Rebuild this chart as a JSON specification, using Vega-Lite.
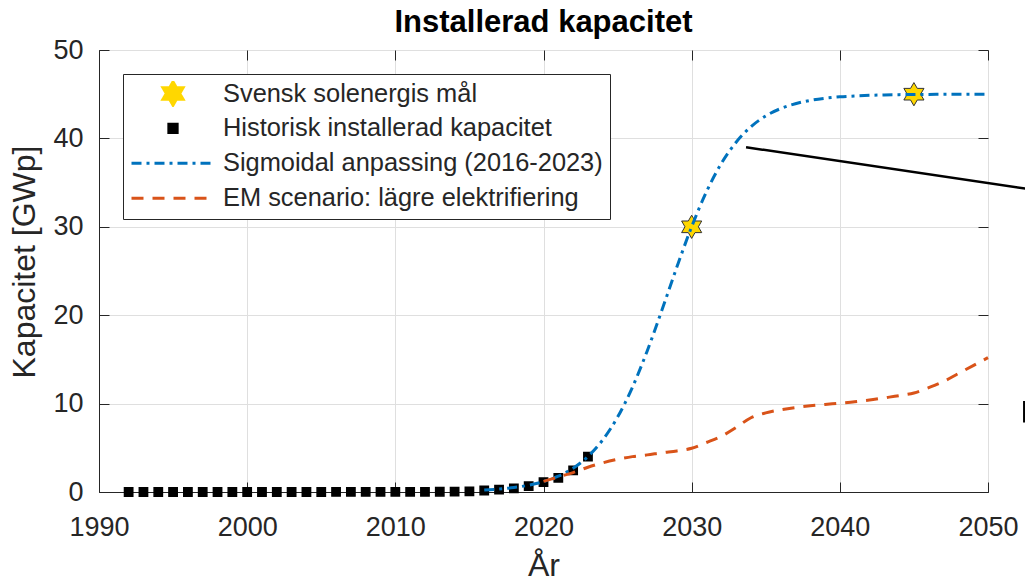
{
  "$schema": "https://vega.github.io/schema/vega-lite/v6.json",
  "width": 889,
  "height": 442,
  "autosize": {"type": "none"},
  "padding": {"left": 99, "top": 50, "right": 37, "bottom": 90},
  "background": "white",
  "title": {"text": "Installerad kapacitet", "frame": "group", "anchor": "middle", "fontSize": 31, "fontWeight": "bold", "font": "Liberation Sans", "color": "#000000", "offset": -3},
  "config": {
    "view": {"stroke": "#262626", "strokeWidth": 1},
    "axis": {"labelFont": "Liberation Sans", "titleFont": "Liberation Sans", "labelColor": "#262626", "titleColor": "#262626", "domainColor": "#262626", "tickColor": "#262626", "tickSize": -10, "gridColor": "#DFDFDF", "gridOpacity": 1, "titleFontWeight": "normal", "labelFlush": false, "labelOverlap": false}
  },
  "datasets": {
    "series": [
      {"serie": "Svensk solenergis mål", "year": 2030, "value": 30},
      {"serie": "Svensk solenergis mål", "year": 2045, "value": 45},
      {"serie": "Historisk installerad kapacitet", "year": 1992, "value": 0},
      {"serie": "Historisk installerad kapacitet", "year": 1993, "value": 0},
      {"serie": "Historisk installerad kapacitet", "year": 1994, "value": 0},
      {"serie": "Historisk installerad kapacitet", "year": 1995, "value": 0},
      {"serie": "Historisk installerad kapacitet", "year": 1996, "value": 0},
      {"serie": "Historisk installerad kapacitet", "year": 1997, "value": 0},
      {"serie": "Historisk installerad kapacitet", "year": 1998, "value": 0},
      {"serie": "Historisk installerad kapacitet", "year": 1999, "value": 0},
      {"serie": "Historisk installerad kapacitet", "year": 2000, "value": 0},
      {"serie": "Historisk installerad kapacitet", "year": 2001, "value": 0},
      {"serie": "Historisk installerad kapacitet", "year": 2002, "value": 0},
      {"serie": "Historisk installerad kapacitet", "year": 2003, "value": 0},
      {"serie": "Historisk installerad kapacitet", "year": 2004, "value": 0},
      {"serie": "Historisk installerad kapacitet", "year": 2005, "value": 0},
      {"serie": "Historisk installerad kapacitet", "year": 2006, "value": 0.005},
      {"serie": "Historisk installerad kapacitet", "year": 2007, "value": 0.006},
      {"serie": "Historisk installerad kapacitet", "year": 2008, "value": 0.008},
      {"serie": "Historisk installerad kapacitet", "year": 2009, "value": 0.009},
      {"serie": "Historisk installerad kapacitet", "year": 2010, "value": 0.011},
      {"serie": "Historisk installerad kapacitet", "year": 2011, "value": 0.015},
      {"serie": "Historisk installerad kapacitet", "year": 2012, "value": 0.02},
      {"serie": "Historisk installerad kapacitet", "year": 2013, "value": 0.03},
      {"serie": "Historisk installerad kapacitet", "year": 2014, "value": 0.05},
      {"serie": "Historisk installerad kapacitet", "year": 2015, "value": 0.08},
      {"serie": "Historisk installerad kapacitet", "year": 2016, "value": 0.17},
      {"serie": "Historisk installerad kapacitet", "year": 2017, "value": 0.26},
      {"serie": "Historisk installerad kapacitet", "year": 2018, "value": 0.41},
      {"serie": "Historisk installerad kapacitet", "year": 2019, "value": 0.66},
      {"serie": "Historisk installerad kapacitet", "year": 2020, "value": 1.12},
      {"serie": "Historisk installerad kapacitet", "year": 2021, "value": 1.6},
      {"serie": "Historisk installerad kapacitet", "year": 2022, "value": 2.45},
      {"serie": "Historisk installerad kapacitet", "year": 2023, "value": 4.0},
      {"serie": "Sigmoidal anpassing (2016-2023)", "year": 2016, "value": 0.215},
      {"serie": "Sigmoidal anpassing (2016-2023)", "year": 2017, "value": 0.33},
      {"serie": "Sigmoidal anpassing (2016-2023)", "year": 2018, "value": 0.505},
      {"serie": "Sigmoidal anpassing (2016-2023)", "year": 2019, "value": 0.773},
      {"serie": "Sigmoidal anpassing (2016-2023)", "year": 2020, "value": 1.178},
      {"serie": "Sigmoidal anpassing (2016-2023)", "year": 2021, "value": 1.788},
      {"serie": "Sigmoidal anpassing (2016-2023)", "year": 2022, "value": 2.694},
      {"serie": "Sigmoidal anpassing (2016-2023)", "year": 2023, "value": 4.015},
      {"serie": "Sigmoidal anpassing (2016-2023)", "year": 2024, "value": 5.9},
      {"serie": "Sigmoidal anpassing (2016-2023)", "year": 2025, "value": 8.47},
      {"serie": "Sigmoidal anpassing (2016-2023)", "year": 2026, "value": 11.84},
      {"serie": "Sigmoidal anpassing (2016-2023)", "year": 2027, "value": 15.96},
      {"serie": "Sigmoidal anpassing (2016-2023)", "year": 2028, "value": 20.61},
      {"serie": "Sigmoidal anpassing (2016-2023)", "year": 2029, "value": 25.44},
      {"serie": "Sigmoidal anpassing (2016-2023)", "year": 2030, "value": 30.01},
      {"serie": "Sigmoidal anpassing (2016-2023)", "year": 2031, "value": 33.97},
      {"serie": "Sigmoidal anpassing (2016-2023)", "year": 2032, "value": 37.16},
      {"serie": "Sigmoidal anpassing (2016-2023)", "year": 2033, "value": 39.57},
      {"serie": "Sigmoidal anpassing (2016-2023)", "year": 2034, "value": 41.32},
      {"serie": "Sigmoidal anpassing (2016-2023)", "year": 2035, "value": 42.54},
      {"serie": "Sigmoidal anpassing (2016-2023)", "year": 2036, "value": 43.37},
      {"serie": "Sigmoidal anpassing (2016-2023)", "year": 2037, "value": 43.92},
      {"serie": "Sigmoidal anpassing (2016-2023)", "year": 2038, "value": 44.3},
      {"serie": "Sigmoidal anpassing (2016-2023)", "year": 2039, "value": 44.54},
      {"serie": "Sigmoidal anpassing (2016-2023)", "year": 2040, "value": 44.7},
      {"serie": "Sigmoidal anpassing (2016-2023)", "year": 2041, "value": 44.8},
      {"serie": "Sigmoidal anpassing (2016-2023)", "year": 2042, "value": 44.87},
      {"serie": "Sigmoidal anpassing (2016-2023)", "year": 2043, "value": 44.92},
      {"serie": "Sigmoidal anpassing (2016-2023)", "year": 2044, "value": 44.95},
      {"serie": "Sigmoidal anpassing (2016-2023)", "year": 2045, "value": 44.97},
      {"serie": "Sigmoidal anpassing (2016-2023)", "year": 2046, "value": 44.98},
      {"serie": "Sigmoidal anpassing (2016-2023)", "year": 2047, "value": 44.99},
      {"serie": "Sigmoidal anpassing (2016-2023)", "year": 2048, "value": 45.0},
      {"serie": "Sigmoidal anpassing (2016-2023)", "year": 2049, "value": 45.0},
      {"serie": "Sigmoidal anpassing (2016-2023)", "year": 2050, "value": 45.0},
      {"serie": "EM scenario: lägre elektrifiering", "year": 2020, "value": 1.2},
      {"serie": "EM scenario: lägre elektrifiering", "year": 2021, "value": 1.7},
      {"serie": "EM scenario: lägre elektrifiering", "year": 2022, "value": 2.2},
      {"serie": "EM scenario: lägre elektrifiering", "year": 2023, "value": 2.8},
      {"serie": "EM scenario: lägre elektrifiering", "year": 2024, "value": 3.3},
      {"serie": "EM scenario: lägre elektrifiering", "year": 2025, "value": 3.7},
      {"serie": "EM scenario: lägre elektrifiering", "year": 2026, "value": 4.0},
      {"serie": "EM scenario: lägre elektrifiering", "year": 2027, "value": 4.2},
      {"serie": "EM scenario: lägre elektrifiering", "year": 2028, "value": 4.45},
      {"serie": "EM scenario: lägre elektrifiering", "year": 2029, "value": 4.65},
      {"serie": "EM scenario: lägre elektrifiering", "year": 2030, "value": 4.95},
      {"serie": "EM scenario: lägre elektrifiering", "year": 2031, "value": 5.6},
      {"serie": "EM scenario: lägre elektrifiering", "year": 2032, "value": 6.3},
      {"serie": "EM scenario: lägre elektrifiering", "year": 2033, "value": 7.3},
      {"serie": "EM scenario: lägre elektrifiering", "year": 2034, "value": 8.4},
      {"serie": "EM scenario: lägre elektrifiering", "year": 2035, "value": 8.95},
      {"serie": "EM scenario: lägre elektrifiering", "year": 2036, "value": 9.3},
      {"serie": "EM scenario: lägre elektrifiering", "year": 2037, "value": 9.55},
      {"serie": "EM scenario: lägre elektrifiering", "year": 2038, "value": 9.75},
      {"serie": "EM scenario: lägre elektrifiering", "year": 2039, "value": 9.9},
      {"serie": "EM scenario: lägre elektrifiering", "year": 2040, "value": 10.05},
      {"serie": "EM scenario: lägre elektrifiering", "year": 2041, "value": 10.2},
      {"serie": "EM scenario: lägre elektrifiering", "year": 2042, "value": 10.4},
      {"serie": "EM scenario: lägre elektrifiering", "year": 2043, "value": 10.65},
      {"serie": "EM scenario: lägre elektrifiering", "year": 2044, "value": 10.9},
      {"serie": "EM scenario: lägre elektrifiering", "year": 2045, "value": 11.2},
      {"serie": "EM scenario: lägre elektrifiering", "year": 2046, "value": 11.8},
      {"serie": "EM scenario: lägre elektrifiering", "year": 2047, "value": 12.5},
      {"serie": "EM scenario: lägre elektrifiering", "year": 2048, "value": 13.4},
      {"serie": "EM scenario: lägre elektrifiering", "year": 2049, "value": 14.3},
      {"serie": "EM scenario: lägre elektrifiering", "year": 2050, "value": 15.2}
    ],
    "notes": [
      {"x": 2033.67, "y": 39.0, "x2": 2052.6, "y2": 34.3},
      {"x": 2052.45, "y": 10.3, "x2": 2052.45, "y2": 7.85}
    ]
  },
  "layer": [
    {
      "data": {"name": "series"},
      "transform": [{"filter": "datum.serie === 'Svensk solenergis mål'"}],
      "mark": {"type": "point", "filled": true, "size": 6889, "stroke": "#333333", "strokeWidth": 1, "opacity": 1},
      "encoding": {
        "x": {"field": "year", "type": "quantitative", "scale": {"domain": [1990, 2050], "nice": false, "zero": false},
          "axis": {"orient": "bottom", "values": [1990, 2000, 2010, 2020, 2030, 2040, 2050], "format": "d", "labelFontSize": 27, "labelPadding": 32, "grid": true, "title": "År", "titleFontSize": 32, "titleX": 444.5, "titleY": 83, "titleBaseline": "alphabetic"}},
        "y": {"field": "value", "type": "quantitative", "scale": {"domain": [0, 50], "nice": false},
          "axis": {"orient": "left", "values": [0, 10, 20, 30, 40, 50], "labelFontSize": 27, "labelPadding": 26, "grid": true, "title": "Kapacitet [GWp]", "titleFontSize": 32, "titleX": -65, "titleY": 211.5, "titleBaseline": "alphabetic", "titleAngle": 270}},
        "color": {"field": "serie", "type": "nominal",
          "scale": {"domain": ["Svensk solenergis mål", "Historisk installerad kapacitet", "Sigmoidal anpassing (2016-2023)", "EM scenario: lägre elektrifiering"], "range": ["#FFD700", "#000000", "#0072BD", "#D95319"]},
          "legend": {
            "title": null, "orient": "none", "legendX": 24, "legendY": 24, "direction": "vertical",
            "symbolSize": 6889, "symbolStrokeWidth": 3, "clipHeight": 25, "rowPadding": 8.9, "labelOffset": 7,
            "labelFont": "Liberation Sans", "labelFontSize": 25.4, "labelColor": "#262626", "labelLimit": 700,
            "strokeColor": "#262626", "fillColor": "#FFFFFF", "padding": 7
          }},
        "shape": {"field": "serie", "type": "nominal",
          "scale": {"domain": ["Svensk solenergis mål", "Historisk installerad kapacitet", "Sigmoidal anpassing (2016-2023)", "EM scenario: lägre elektrifiering"],
            "range": ["M0,-0.28L0.081,-0.14L0.2425,-0.14L0.1617,0L0.2425,0.14L0.081,0.14L0,0.28L-0.081,0.14L-0.2425,0.14L-0.1617,0L-0.2425,-0.14L-0.081,-0.14Z", "M-0.1,-0.1L0.1,-0.1L0.1,0.1L-0.1,0.1Z", "stroke", "stroke"]},
          "legend": {"title": null}}
      }
    },
    {
      "data": {"name": "series"},
      "transform": [{"filter": "datum.serie === 'Historisk installerad kapacitet'"}],
      "mark": {"type": "point", "filled": true, "size": 6889, "stroke": "#000000", "strokeWidth": 1.5, "opacity": 1},
      "encoding": {
        "x": {"field": "year", "type": "quantitative", "scale": {"domain": [1990, 2050], "nice": false, "zero": false},
          "axis": {"orient": "top", "values": [1990, 2000, 2010, 2020, 2030, 2040, 2050], "labels": false, "grid": false, "domain": false, "title": null, "minExtent": 0, "maxExtent": 0}},
        "y": {"field": "value", "type": "quantitative", "scale": {"domain": [0, 50], "nice": false},
          "axis": {"orient": "right", "values": [0, 10, 20, 30, 40, 50], "labels": false, "grid": false, "domain": false, "title": null, "minExtent": 0, "maxExtent": 0}},
        "color": {"field": "serie", "type": "nominal", "legend": {"title": null}},
        "shape": {"field": "serie", "type": "nominal", "legend": {"title": null}}
      }
    },
    {
      "data": {"name": "series"},
      "transform": [{"filter": "datum.serie === 'Sigmoidal anpassing (2016-2023)'"}],
      "mark": {"type": "line", "strokeWidth": 3, "interpolate": "monotone"},
      "encoding": {
        "x": {"field": "year", "type": "quantitative", "scale": {"domain": [1990, 2050], "nice": false, "zero": false}, "axis": null},
        "y": {"field": "value", "type": "quantitative", "scale": {"domain": [0, 50], "nice": false}, "axis": null},
        "color": {"field": "serie", "type": "nominal", "legend": {"title": null}},
        "strokeDash": {"field": "serie", "type": "nominal",
          "scale": {"domain": ["Svensk solenergis mål", "Historisk installerad kapacitet", "Sigmoidal anpassing (2016-2023)", "EM scenario: lägre elektrifiering"], "range": [[1, 0], [1, 0], [10, 5, 3, 5], [12, 9]]},
          "legend": {"title": null}}
      }
    },
    {
      "data": {"name": "series"},
      "transform": [{"filter": "datum.serie === 'EM scenario: lägre elektrifiering'"}],
      "mark": {"type": "line", "strokeWidth": 3, "interpolate": "monotone"},
      "encoding": {
        "x": {"field": "year", "type": "quantitative", "scale": {"domain": [1990, 2050], "nice": false, "zero": false}, "axis": null},
        "y": {"field": "value", "type": "quantitative", "scale": {"domain": [0, 50], "nice": false}, "axis": null},
        "color": {"field": "serie", "type": "nominal", "legend": {"title": null}},
        "strokeDash": {"field": "serie", "type": "nominal", "legend": {"title": null}}
      }
    },
    {
      "data": {"name": "notes"},
      "mark": {"type": "rule", "color": "#000000", "strokeWidth": 2.5, "clip": false},
      "encoding": {
        "x": {"field": "x", "type": "quantitative", "axis": null},
        "y": {"field": "y", "type": "quantitative", "axis": null},
        "x2": {"field": "x2"},
        "y2": {"field": "y2"}
      }
    }
  ],
  "resolve": {"axis": {"x": "independent", "y": "independent"}}
}
